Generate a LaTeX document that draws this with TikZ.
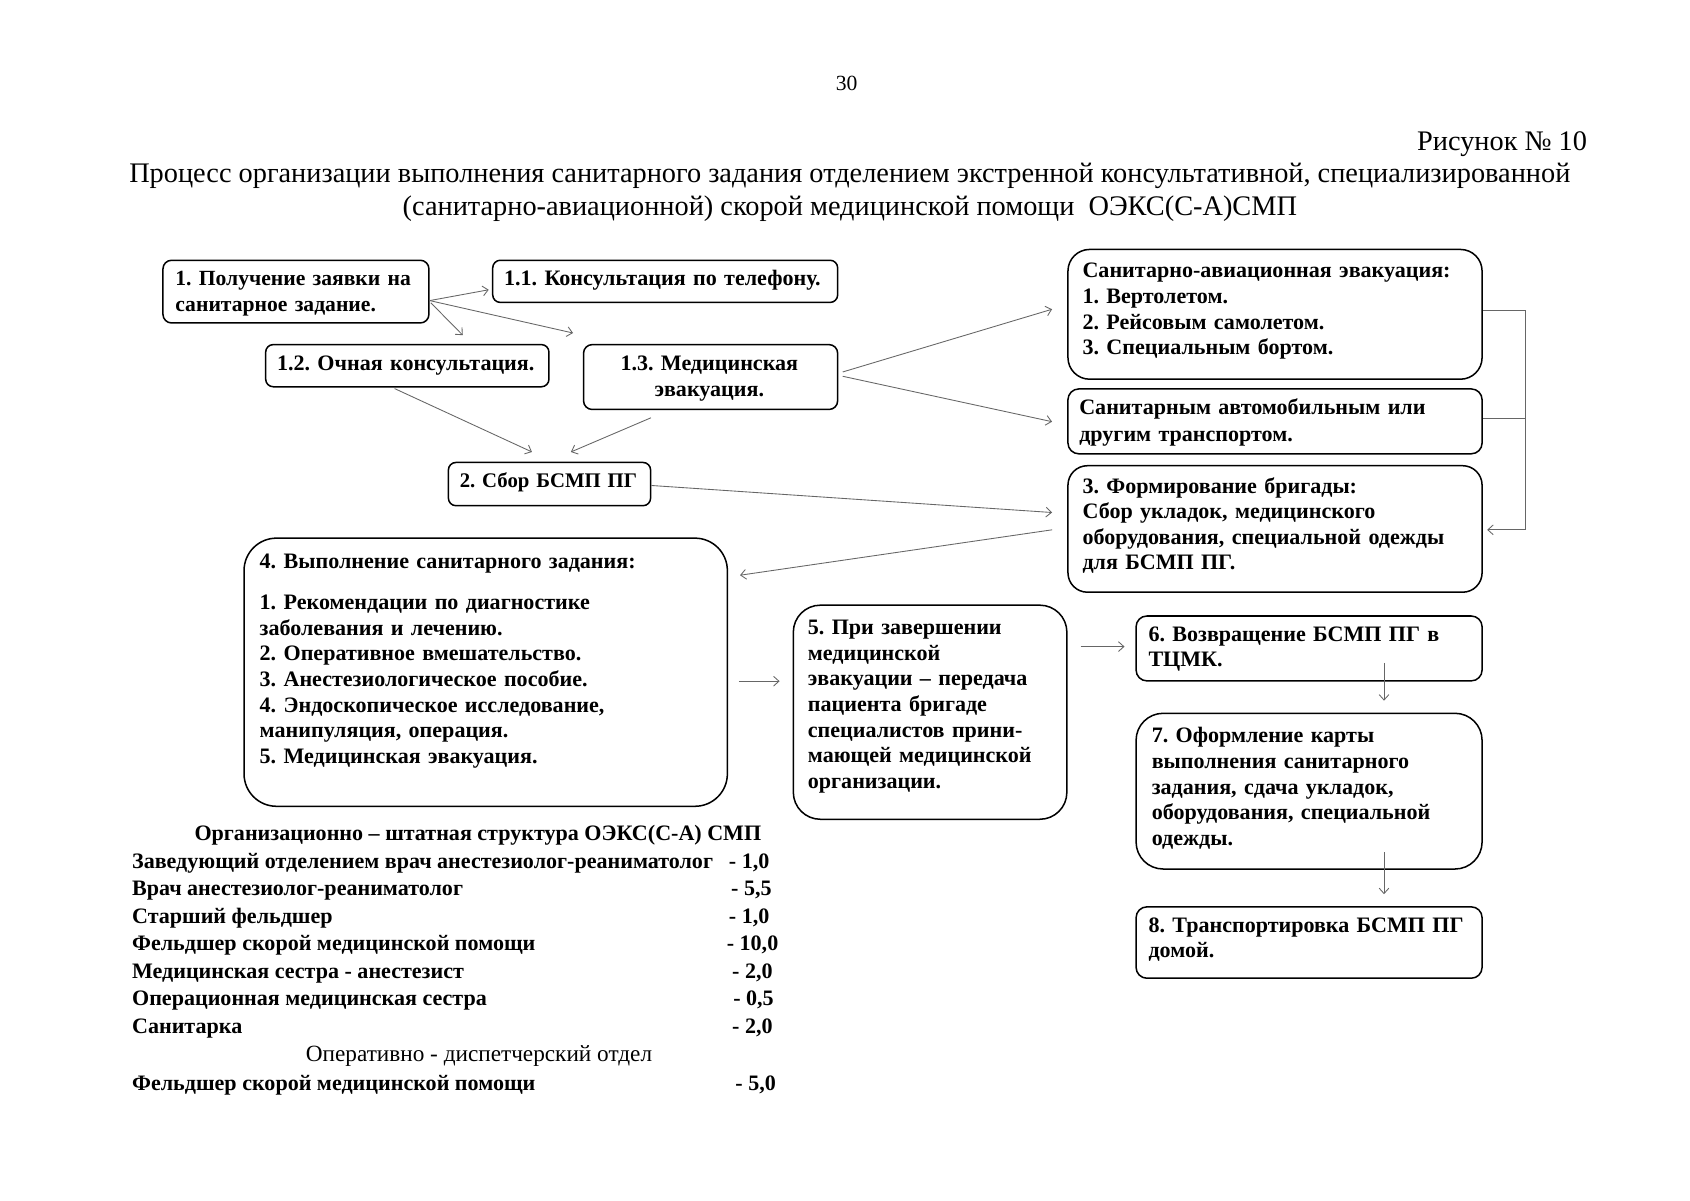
\documentclass[tikz,border=0pt]{standalone}
\usepackage{fontspec}
\setmainfont{Liberation Serif}
\usetikzlibrary{arrows.meta,calc}
\frenchspacing
\begin{document}
\begin{tikzpicture}[x=1pt,y=-1pt,
  box/.style={draw, line width=1.4pt, anchor=north west, inner sep=0pt},
  txt/.style={font=\bfseries\fontsize{20.4}{23.7}\selectfont, inner sep=0pt, anchor=base west, align=left, text width=#1},
  ctxt/.style={font=\bfseries\fontsize{20.4}{23.7}\selectfont, inner sep=0pt, anchor=base, align=center, text width=#1},
  arr/.style={draw=black!60, line width=0.8pt, -{Straight Barb[length=5pt,width=9pt]}},
  staff/.style={font=\bfseries\fontsize{20.4}{22}\selectfont, inner sep=0pt, anchor=base west},
  ttl/.style={font=\fontsize{26.2}{30}\selectfont, inner sep=0pt, anchor=base}
]
\useasboundingbox[fill=white] (0,0) rectangle (1563,1110);

% header
\node[font=\fontsize{20}{22}\selectfont, inner sep=0pt, anchor=base] (pg) at (783,84) {30};
\node[ttl, anchor=base east] (fig) at (1468,139) {Рисунок № 10};
\node[ttl] (t1) at (786,169) {Процесс организации выполнения санитарного задания отделением экстренной консультативной, специализированной};
\node[ttl] (t2) at (786,199) {(санитарно-авиационной) скорой медицинской помощи\ \ ОЭКС(С-А)СМП};

% boxes
\node[box, rounded corners=8pt, minimum width=246pt, minimum height=58pt] (b1) at (150,240) {};
\node[txt=240pt, font=\bfseries\fontsize{20}{23.7}\selectfont] (tb1) at (162,264) {1. Получение заявки на\\санитарное задание.};

\node[box, rounded corners=7pt, minimum width=319pt, minimum height=39pt] (b11) at (455,240) {};
\node[txt=310pt] (tb11) at (466,264) {1.1. Консультация по телефону.};

\node[box, rounded corners=7pt, minimum width=262pt, minimum height=39pt] (b12) at (245,318) {};
\node[txt=255pt] (tb12) at (256,343) {1.2. Очная консультация.};

\node[box, rounded corners=8pt, minimum width=235pt, minimum height=60pt] (b13) at (539,318) {};
\node[ctxt=230pt] (tb13) at (656,343) {1.3. Медицинская\\эвакуация.};

\node[box, rounded corners=7pt, minimum width=187pt, minimum height=40pt] (b2) at (414,427) {};
\node[txt=180pt, font=\bfseries\fontsize{19.2}{23.7}\selectfont] (tb2) at (425,451) {2. Сбор БСМП ПГ};

\node[box, rounded corners=20pt, minimum width=383pt, minimum height=120pt] (sa) at (987,230) {};
\node[txt=370pt] (tsa) at (1001,257) {Санитарно-авиационная эвакуация:\\1. Вертолетом.\\2. Рейсовым самолетом.\\3. Специальным бортом.};

\node[box, rounded corners=10pt, minimum width=383pt, minimum height=60pt] (st) at (987,359) {};
\node[txt=370pt] (tst) at (998,383) {Санитарным автомобильным или\\[2pt]другим транспортом.};

\node[box, rounded corners=18pt, minimum width=383pt, minimum height=117pt] (b3) at (987,430) {};
\node[txt=370pt] (tb3) at (1001,456) {3. Формирование бригады:\\Сбор укладок, медицинского\\оборудования, специальной одежды\\для БСМП ПГ.};

\node[box, rounded corners=30pt, minimum width=447pt, minimum height=248pt] (b4) at (225,497) {};
\node[txt=430pt] (tb4) at (240,526) {4. Выполнение санитарного задания:\\[14pt]1. Рекомендации по диагностике\\заболевания и лечению.\\2. Оперативное вмешательство.\\3. Анестезиологическое пособие.\\4. Эндоскопическое исследование,\\манипуляция, операция.\\5. Медицинская эвакуация.};

\node[box, rounded corners=25pt, minimum width=253pt, minimum height=198pt] (b5) at (733,559) {};
\node[txt=245pt] (tb5) at (747,587) {5. При завершении\\медицинской\\эвакуации – передача\\пациента бригаде\\специалистов прини-\\мающей медицинской\\организации.};

\node[box, rounded corners=10pt, minimum width=320pt, minimum height=60pt] (b6) at (1050,569) {};
\node[txt=310pt] (tb6) at (1062,593) {6. Возвращение БСМП ПГ в\\ТЦМК.};

\node[box, rounded corners=25pt, minimum width=320pt, minimum height=144pt] (b7) at (1050,659) {};
\node[txt=300pt] (tb7) at (1065,687) {7. Оформление карты\\выполнения санитарного\\задания, сдача укладок,\\оборудования, специальной\\одежды.};

\node[box, rounded corners=10pt, minimum width=320pt, minimum height=66pt] (b8) at (1050,838) {};
\node[txt=310pt] (tb8) at (1062,862) {8. Транспортировка БСМП ПГ\\домой.};

% connectors
\draw[arr] ($(b1.north east)+(0,38)$) -- ($(b11.north west)+(-3,28)$);
\draw[arr] ($(b1.north east)+(0,38)$) -- ($(b13.north west)+(-9,-10)$);
\draw[arr] ($(b1.north east)+(1,40)$) -- ($(b12.north west)+(183,-8)$);
\draw[arr] ($(b12.south west)+(120,1)$) -- ($(b2.north west)+(78,-9)$);
\draw[arr] ($(b13.south west)+(63,7)$) -- ($(b2.north west)+(114,-9)$);
\draw[arr] ($(b13.north east)+(4,26)$) -- ($(sa.north west)+(-14,56)$);
\draw[arr] ($(b13.north east)+(4,30)$) -- ($(st.north west)+(-14,31)$);
\draw[arr] ($(b2.north east)+(0,22)$) -- ($(b3.north west)+(-14,44)$);
\draw[arr] ($(b3.north west)+(-14,60)$) -- ($(b4.north east)+(11,35)$);
\coordinate (brk) at ($(sa.north east)+(39,57)$);
\draw[draw=black!60, line width=0.8pt] ($(sa.north east)+(0,57)$) -- (brk);
\draw[draw=black!60, line width=0.8pt] ($(st.north east)+(0,28)$) -- (brk |- {$(st.north east)+(0,28)$});
\draw[arr] (brk) -- (brk |- {$(b3.north east)+(4,60)$}) -- ($(b3.north east)+(4,60)$);
\draw[arr] ($(b4.north east)+(10,133)$) -- ($(b5.north west)+(-12,71)$);
\draw[arr] ($(b5.north east)+(12,39)$) -- ($(b6.north west)+(-10,29)$);
\draw[arr] ($(b6.north west)+(230,44)$) -- ($(b7.north west)+(230,-11)$);
\draw[arr] ($(b7.north west)+(230,129)$) -- ($(b8.north west)+(230,-11)$);

% staff list
\node[staff, anchor=base] (s0) at (442,777) {Организационно – штатная структура ОЭКС(С-А) СМП};
\node[staff] (s1) at (122,803) {Заведующий отделением врач анестезиолог-реаниматолог};
\node[staff] (v1) at (674,803) {- 1,0};
\node[staff] (s2) at (122,828) {Врач анестезиолог-реаниматолог};
\node[staff] (v2) at (676,828) {- 5,5};
\node[staff] (s3) at (122,854) {Старший фельдшер};
\node[staff] (v3) at (674,854) {- 1,0};
\node[staff] (s4) at (122,879) {Фельдшер скорой медицинской помощи};
\node[staff] (v4) at (672,879) {- 10,0};
\node[staff] (s5) at (122,905) {Медицинская сестра - анестезист};
\node[staff] (v5) at (677,905) {- 2,0};
\node[staff] (s6) at (122,930) {Операционная медицинская сестра};
\node[staff] (v6) at (678,930) {- 0,5};
\node[staff] (s7) at (122,956) {Санитарка};
\node[staff] (v7) at (677,956) {- 2,0};
\node[staff, font=\fontsize{21.5}{22}\selectfont, anchor=base] (s8) at (443,982) {Оперативно - диспетчерский отдел};
\node[staff] (s9) at (122,1009) {Фельдшер скорой медицинской помощи};
\node[staff] (v9) at (680,1009) {- 5,0};
\end{tikzpicture}
\end{document}
